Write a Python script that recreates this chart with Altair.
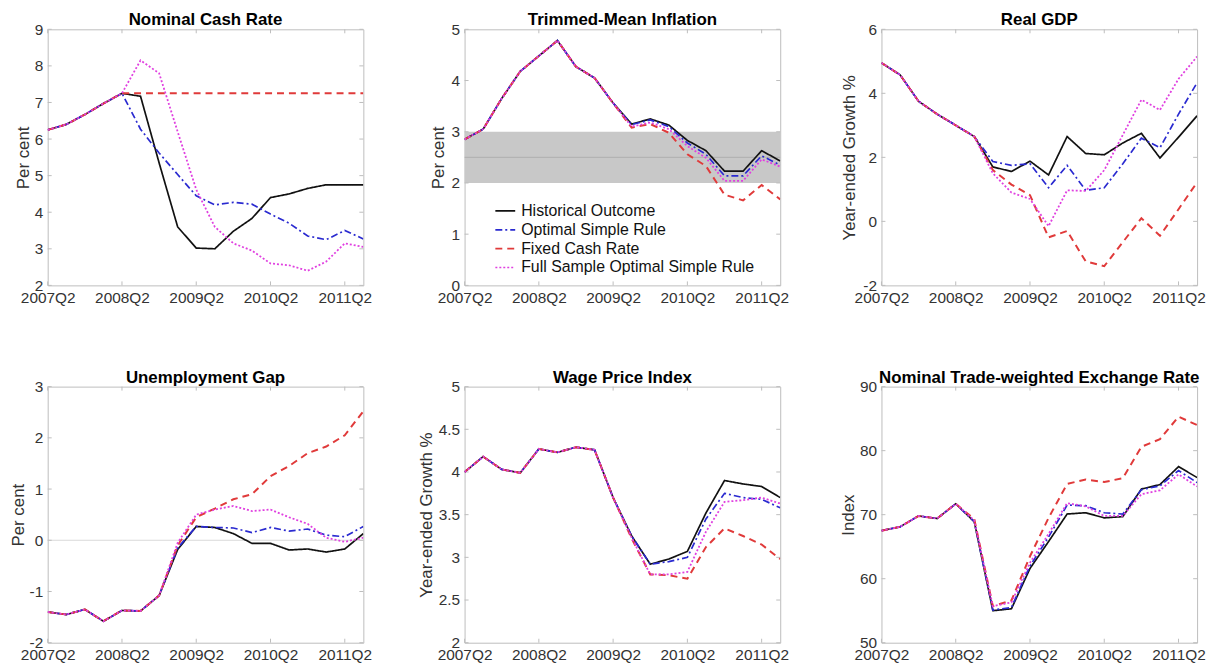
import altair as alt
import pandas as pd

# ---------------- data ----------------
SERIES = ["Historical Outcome", "Optimal Simple Rule", "Fixed Cash Rate",
          "Full Sample Optimal Simple Rule"]
COLORS = ["#111111", "#2a2ad0", "#e03a3a", "#e040e0"]
DASHES = [[1, 0], [7, 3, 2, 3], [7, 5], [2, 2]]
WIDTHS = [1.7, 1.7, 2.0, 1.8]

QUARTER_LABELS = ["2007Q2", "2008Q2", "2009Q2", "2010Q2", "2011Q2"]
QUARTER_TICKS = [0, 4, 8, 12, 16]
N_QUARTERS = 18  # 2007Q2 ... 2011Q3

# Nominal Cash Rate
cash_hist = [6.25, 6.4, 6.67, 6.97, 7.25, 7.17, 5.35, 3.6, 3.02, 3.0, 3.48, 3.83, 4.4, 4.5, 4.65, 4.75, 4.75, 4.75]
cash_osr = [6.25, 6.4, 6.67, 6.97, 7.25, 6.27, 5.62, 5.03, 4.45, 4.2, 4.27, 4.22, 3.95, 3.7, 3.35, 3.25, 3.5, 3.27]
cash_fixed = [6.25, 6.4, 6.67, 6.97, 7.25, 7.25, 7.25, 7.25, 7.25, 7.25, 7.25, 7.25, 7.25, 7.25, 7.25, 7.25, 7.25, 7.25]
cash_full = [6.25, 6.4, 6.67, 6.97, 7.25, 8.15, 7.8, 6.2, 4.62, 3.6, 3.15, 2.95, 2.6, 2.55, 2.4, 2.65, 3.15, 3.05]

# Trimmed-Mean Inflation
infl_hist = [2.85, 3.05, 3.65, 4.18, 4.48, 4.78, 4.27, 4.05, 3.56, 3.15, 3.25, 3.13, 2.83, 2.63, 2.23, 2.23, 2.63, 2.43]
infl_osr = [2.85, 3.05, 3.65, 4.18, 4.48, 4.78, 4.27, 4.05, 3.56, 3.14, 3.23, 3.1, 2.78, 2.56, 2.14, 2.14, 2.53, 2.35]
infl_fixed = [2.85, 3.05, 3.65, 4.18, 4.48, 4.78, 4.27, 4.05, 3.56, 3.08, 3.15, 2.98, 2.56, 2.33, 1.77, 1.66, 1.96, 1.68]
infl_full = [2.85, 3.05, 3.65, 4.18, 4.48, 4.78, 4.27, 4.05, 3.56, 3.1, 3.18, 3.05, 2.72, 2.49, 2.04, 2.04, 2.46, 2.32]
target_band = [2.0, 3.0]
target_mid = [2.5]

# Real GDP
gdp_hist = [4.95, 4.58, 3.75, 3.35, 3.0, 2.65, 1.7, 1.56, 1.88, 1.45, 2.65, 2.12, 2.08, 2.45, 2.75, 1.98, 2.63, 3.3]
gdp_osr = [4.95, 4.58, 3.75, 3.35, 3.0, 2.65, 1.87, 1.75, 1.8, 1.05, 1.75, 0.97, 1.05, 1.8, 2.6, 2.3, 3.35, 4.33]
gdp_fixed = [4.95, 4.58, 3.75, 3.35, 3.0, 2.65, 1.6, 1.15, 0.82, -0.5, -0.3, -1.25, -1.4, -0.65, 0.1, -0.45, 0.38, 1.22]
gdp_full = [4.95, 4.58, 3.75, 3.35, 3.0, 2.65, 1.5, 0.9, 0.7, -0.15, 0.97, 0.95, 1.6, 2.7, 3.8, 3.48, 4.45, 5.15]

# Unemployment Gap
ugap_hist = [-1.4, -1.45, -1.35, -1.58, -1.37, -1.38, -1.08, -0.18, 0.27, 0.25, 0.13, -0.06, -0.06, -0.19, -0.17, -0.23, -0.17, 0.13]
ugap_osr = [-1.4, -1.45, -1.35, -1.58, -1.37, -1.38, -1.08, -0.15, 0.27, 0.25, 0.24, 0.15, 0.25, 0.18, 0.22, 0.1, 0.07, 0.27]
ugap_fixed = [-1.4, -1.45, -1.35, -1.58, -1.37, -1.38, -1.08, -0.1, 0.45, 0.62, 0.8, 0.9, 1.25, 1.45, 1.7, 1.83, 2.05, 2.52]
ugap_full = [-1.4, -1.45, -1.35, -1.58, -1.37, -1.38, -1.08, -0.05, 0.5, 0.6, 0.67, 0.57, 0.6, 0.45, 0.32, 0.05, -0.03, 0.05]
zero_line = [0.0]

# Wage Price Index
wpi_hist = [4.0, 4.18, 4.03, 3.99, 4.27, 4.23, 4.29, 4.26, 3.7, 3.25, 2.92, 2.98, 3.07, 3.52, 3.9, 3.86, 3.83, 3.7]
wpi_osr = [4.0, 4.18, 4.03, 3.99, 4.27, 4.23, 4.29, 4.26, 3.7, 3.25, 2.92, 2.95, 3.0, 3.45, 3.75, 3.7, 3.68, 3.58]
wpi_fixed = [4.0, 4.18, 4.03, 3.99, 4.27, 4.23, 4.29, 4.26, 3.7, 3.22, 2.8, 2.79, 2.75, 3.12, 3.34, 3.25, 3.15, 2.98]
wpi_full = [4.0, 4.18, 4.03, 3.99, 4.27, 4.23, 4.29, 4.26, 3.7, 3.23, 2.8, 2.8, 2.83, 3.3, 3.65, 3.67, 3.7, 3.63]

# Nominal Trade-weighted Exchange Rate
twi_hist = [67.5, 68.1, 69.8, 69.4, 71.7, 68.9, 55.0, 55.3, 61.6, 65.8, 70.1, 70.3, 69.5, 69.7, 74.0, 74.7, 77.5, 75.8]
twi_osr = [67.5, 68.1, 69.8, 69.4, 71.7, 68.9, 55.1, 55.5, 62.0, 66.5, 71.5, 71.4, 70.3, 70.1, 73.9, 74.5, 76.9, 75.0]
twi_fixed = [67.5, 68.1, 69.8, 69.4, 71.7, 69.3, 55.7, 56.6, 63.5, 69.5, 74.8, 75.5, 75.1, 75.7, 80.6, 81.8, 85.3, 84.0]
twi_full = [67.5, 68.1, 69.8, 69.4, 71.7, 69.1, 55.7, 56.3, 62.5, 67.0, 71.8, 71.3, 69.8, 69.8, 73.2, 73.8, 76.3, 74.4]

# ---------------- chart ----------------
FONT = "Liberation Sans"
TXT = "#333333"
BOX = "#bdbdbd"
W, H = 318, 258
TICK_LEN = 4

label_expr = "[" + ",".join("'%s'" % s for s in QUARTER_LABELS) + "][datum.value/4]"

xscale = alt.Scale(domain=[0, N_QUARTERS - 1], nice=False, zero=False)
xaxis = alt.Axis(values=QUARTER_TICKS, labelExpr=label_expr, title=None, domain=False,
                 ticks=False, grid=False, labelFontSize=15.5, labelColor=TXT,
                 labelPadding=5, labelFlush=False, labelOverlap=False)


def yaxis(title, ticks, pad):
    return alt.Axis(values=ticks, title=title, titleFontSize=17, titleFontWeight="normal",
                    titleColor=TXT, titlePadding=pad, labelFontSize=15.5, labelColor=TXT,
                    labelPadding=5, domain=False, ticks=False, grid=False,
                    labelExpr="'' + datum.value", labelOverlap=False, labelFlush=False)


def make_panel(title, values, ydomain, yticks, ytitle, pad, backdrop=None, show_legend=False):
    yscale = alt.Scale(domain=ydomain, nice=False, zero=False)
    ya = yaxis(ytitle, yticks, pad)
    legend = None
    if show_legend:
        legend = alt.Legend(title=None, orient="none", legendX=30, legendY=172,
                            symbolType="stroke", symbolSize=400, symbolStrokeWidth=1.7,
                            labelFontSize=16, labelColor="#111111", labelOffset=5,
                            rowPadding=0, padding=0, labelLimit=400, labelFont=FONT)
    layers = []
    if backdrop == "band":
        band_df = pd.DataFrame({"lo": [target_band[0]], "hi": [target_band[1]],
                                "x0": [0], "x1": [N_QUARTERS - 1]})
        layers.append(alt.Chart(band_df).mark_rect(color="#c8c8c8").encode(
            x=alt.X("x0:Q", scale=xscale, axis=xaxis), x2="x1:Q",
            y=alt.Y("lo:Q", scale=yscale, axis=ya), y2="hi:Q"))
        layers.append(alt.Chart(pd.DataFrame({"mid": target_mid})).mark_rule(
            color="#a9a9a9", strokeWidth=0.8).encode(
            y=alt.Y("mid:Q", scale=yscale, axis=ya)))
    if backdrop == "zero":
        layers.append(alt.Chart(pd.DataFrame({"z": zero_line})).mark_rule(
            color="#d0d0d0", strokeWidth=0.8).encode(
            y=alt.Y("z:Q", scale=yscale, axis=ya)))

    # inward tick marks on all four sides of the box
    xt = pd.DataFrame({"t": QUARTER_TICKS})
    yt = pd.DataFrame({"t": yticks})
    tx = alt.X("t:Q", scale=xscale, axis=xaxis)
    ty = alt.Y("t:Q", scale=yscale, axis=ya)
    layers.append(alt.Chart(xt).mark_rule(color=BOX, strokeWidth=1).encode(
        x=tx, y=alt.value(0), y2=alt.value(TICK_LEN)))
    layers.append(alt.Chart(xt).mark_rule(color=BOX, strokeWidth=1).encode(
        x=tx, y=alt.value(H), y2=alt.value(H - TICK_LEN)))
    layers.append(alt.Chart(yt).mark_rule(color=BOX, strokeWidth=1).encode(
        y=ty, x=alt.value(0), x2=alt.value(TICK_LEN)))
    layers.append(alt.Chart(yt).mark_rule(color=BOX, strokeWidth=1).encode(
        y=ty, x=alt.value(W), x2=alt.value(W - TICK_LEN)))

    for i, (name, vals) in enumerate(zip(SERIES, values)):
        df = pd.DataFrame({"q": list(range(len(vals))), "value": vals, "series": name})
        layers.append(alt.Chart(df).mark_line(strokeWidth=WIDTHS[i], clip=True).encode(
            x=alt.X("q:Q", scale=xscale, axis=xaxis),
            y=alt.Y("value:Q", scale=yscale, axis=ya),
            color=alt.Color("series:N", scale=alt.Scale(domain=SERIES, range=COLORS), legend=legend),
            strokeDash=alt.StrokeDash("series:N", scale=alt.Scale(domain=SERIES, range=DASHES),
                                      legend=legend)))
    return alt.layer(*layers).properties(
        width=W, height=H,
        title=alt.TitleParams(title, fontSize=17, fontWeight="bold", color="#000000",
                              offset=-7, anchor="middle", font=FONT))


p1 = make_panel("Nominal Cash Rate", [cash_hist, cash_osr, cash_fixed, cash_full],
                [2, 9], [2, 3, 4, 5, 6, 7, 8, 9], "Per cent", 1.6)
p2 = make_panel("Trimmed-Mean Inflation", [infl_hist, infl_osr, infl_fixed, infl_full],
                [0, 5], [0, 1, 2, 3, 4, 5], "Per cent", 3.3, backdrop="band", show_legend=True)
p3 = make_panel("Real GDP", [gdp_hist, gdp_osr, gdp_fixed, gdp_full],
                [-2, 6], [-2, 0, 2, 4, 6], "Year-ended Growth %", 4)
p4 = make_panel("Unemployment Gap", [ugap_hist, ugap_osr, ugap_fixed, ugap_full],
                [-2, 3], [-2, -1, 0, 1, 2, 3], "Per cent", 2, backdrop="zero")
p5 = make_panel("Wage Price Index", [wpi_hist, wpi_osr, wpi_fixed, wpi_full],
                [2, 5], [2, 2.5, 3, 3.5, 4, 4.5, 5], "Year-ended Growth %", 2.7)
p6 = make_panel("Nominal Trade-weighted Exchange Rate", [twi_hist, twi_osr, twi_fixed, twi_full],
                [50, 90], [50, 60, 70, 80, 90], "Index", 2.1)

chart = alt.concat(p1, p2, p3, p4, p5, p6, columns=3, spacing=102, bounds="flush").resolve_scale(
    color="independent", strokeDash="independent"
).resolve_legend(
    color="independent", strokeDash="independent"
).properties(
    padding={"left": 0, "top": 0, "right": 4, "bottom": 0}
).configure(
    font=FONT
).configure_view(
    stroke=BOX, strokeWidth=1
)

chart.save("out.html", embed_options={"renderer": "svg", "actions": False})
